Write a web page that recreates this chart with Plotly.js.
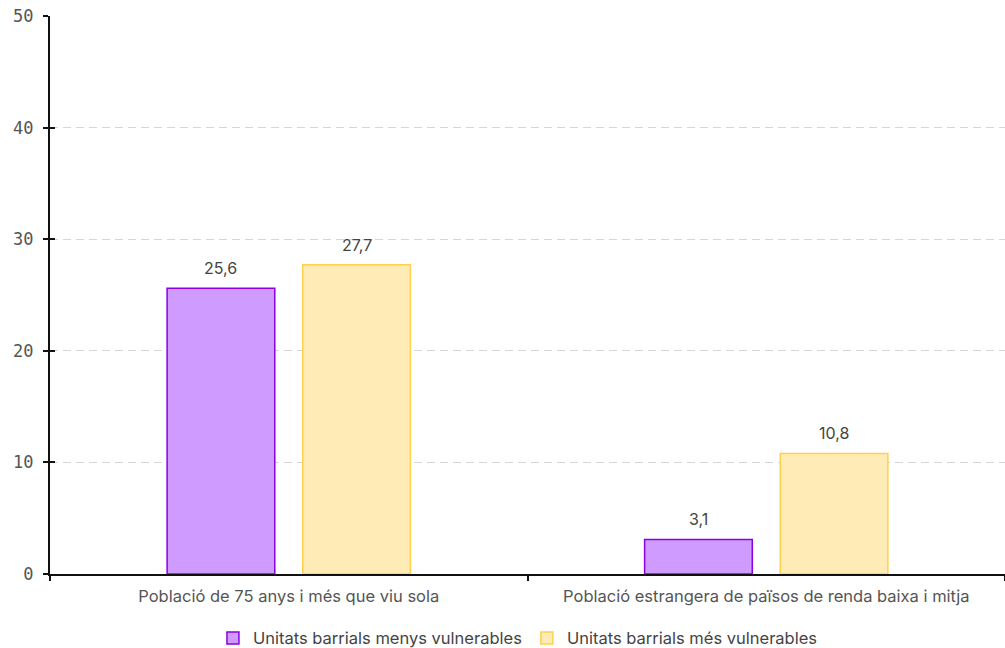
<!DOCTYPE html>
<html><head><meta charset="utf-8">
<script src="https://cdn.plot.ly/plotly-3.0.1.min.js"></script>
<style>html,body{margin:0;padding:0;background:#fff}#c{width:1005px;height:648px}</style>
</head><body><div id="c"></div>
<script>
const categories = ["Població de 75 anys i més que viu sola", "Població estrangera de països de renda baixa i mitja"];
const seriesNames = ["Unitats barrials menys vulnerables", "Unitats barrials més vulnerables"];
const lessVulnerable = [25.6, 3.1];
const moreVulnerable = [27.7, 10.8];
const yTicks = [0, 10, 20, 30, 40, 50];

const BARGAP = 0.432, GROUPGAP = 0.206;
const TEXTFONT = 'Inter, Noto Sans, sans-serif';
function fmt(v){ return v.toFixed(1).replace('.', ','); }

const traces = [
  {type:'bar', name:seriesNames[0], x:categories, y:lessVulnerable,
   marker:{color:'#cf9bff', line:{color:'#8a00e6', width:1.5}}, hoverinfo:'none'},
  {type:'bar', name:seriesNames[1], x:categories, y:moreVulnerable,
   marker:{color:'#ffebb5', line:{color:'#ffd04d', width:1.5}}, hoverinfo:'none'},
  {type:'scatter', x:categories, y:[0,0], yaxis:'y2', mode:'none', showlegend:false, hoverinfo:'none'}
];

const off = (1 - BARGAP) / 4;
const annotations = [];
[lessVulnerable, moreVulnerable].forEach((vals, s) => {
  vals.forEach((v, i) => {
    annotations.push({x: i + (s === 0 ? -off : off), y: v, xref:'x', yref:'y',
      text: fmt(v), showarrow:false, yanchor:'middle', yshift:20,
      font:{family:TEXTFONT, size:16, color:'#444'}});
  });
});

const layout = {
  width:1005, height:648,
  margin:{l:50, r:0, t:16, b:74, autoexpand:false},
  paper_bgcolor:'#fff', plot_bgcolor:'#fff',
  barmode:'group', bargap:BARGAP, bargroupgap:GROUPGAP,
  font:{family:TEXTFONT, size:16, color:'#444'},
  showlegend:true,
  legend:{orientation:'h', x:0.49, xanchor:'center', y:-0.115, yanchor:'middle',
          font:{family:TEXTFONT, size:16.5, color:'#444'},
          itemwidth:30, traceorder:'normal'},
  annotations: annotations,
  xaxis:{type:'category', showline:true, linecolor:'#111', linewidth:2, ticks:'outside', tickson:'boundaries',
         ticklen:5, tickwidth:2, tickcolor:'#111', showgrid:false, ticklabelstandoff:6,
         tickfont:{family:TEXTFONT, size:16.5, color:'#555'}},
  yaxis:{range:[0,50], tickvals:yTicks, ticktext:yTicks.map(String), showline:true, linecolor:'#111', linewidth:2,
         ticks:'outside', ticklen:5, tickwidth:2, tickcolor:'#111', ticklabelstandoff:6,
         showgrid:true, gridcolor:'#d6d6d6', griddash:'8px,5px', gridwidth:1.2, zeroline:false,
         tickfont:{family:'DejaVu Sans Mono, monospace', size:17, color:'#555'}},
  yaxis2:{range:[0,50], overlaying:'y', side:'left', tickvals:yTicks, showticklabels:false,
          ticks:'inside', ticklen:5, tickwidth:2, tickcolor:'#111', showgrid:false, zeroline:false, showline:false}
};

Plotly.newPlot('c', traces, layout, {displayModeBar:false, staticPlot:true});
</script></body></html>
